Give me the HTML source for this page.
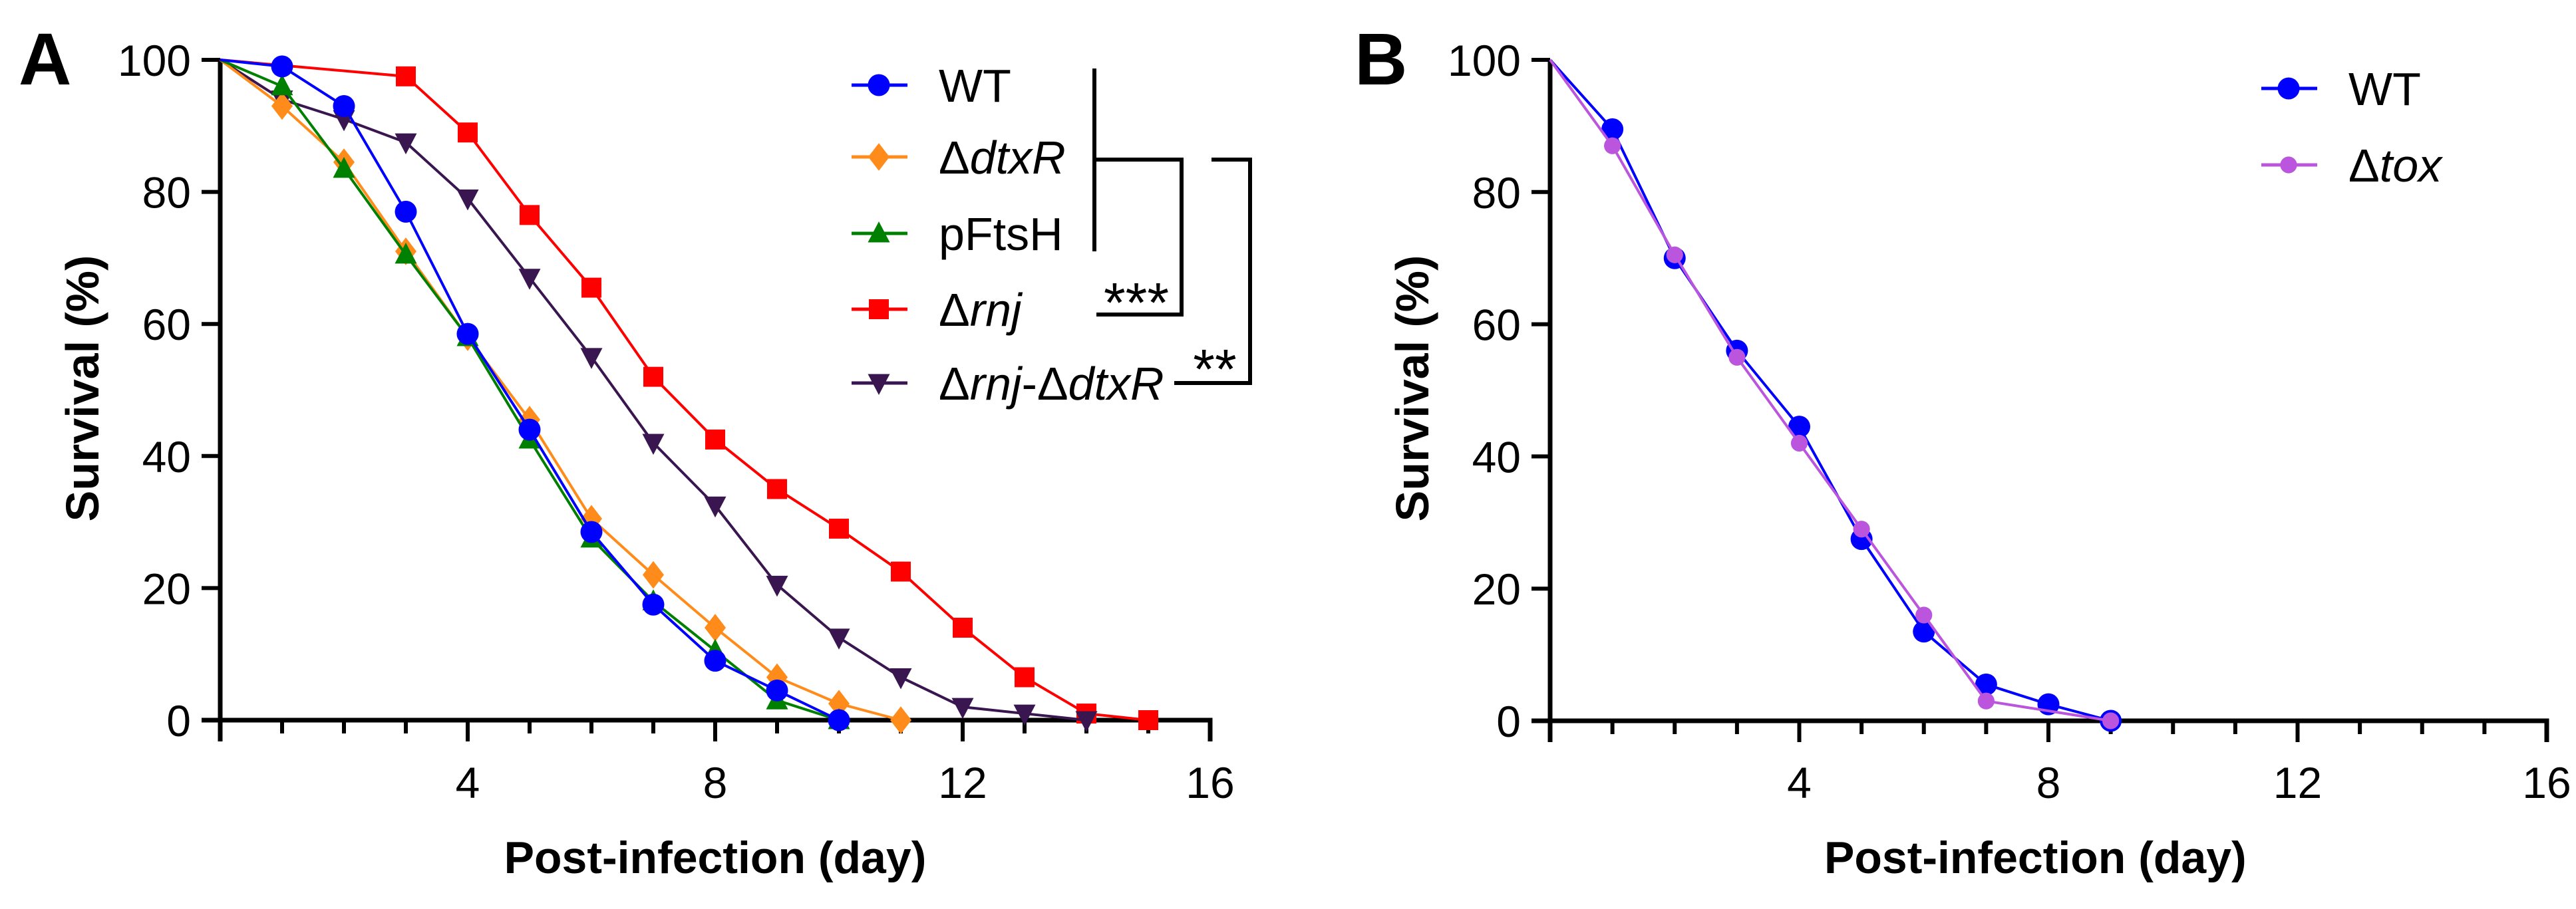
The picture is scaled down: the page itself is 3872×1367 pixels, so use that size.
<!DOCTYPE html>
<html><head><meta charset="utf-8"><style>
html,body{margin:0;padding:0;background:#fff;}
svg{display:block;font-family:"Liberation Sans",sans-serif;}
</style></head><body>
<svg id="fig" width="3872" height="1367" viewBox="0 0 3872 1367" xmlns="http://www.w3.org/2000/svg">
<text x="28" y="127" font-size="110" font-weight="bold">A</text>
<text x="2036" y="127" font-size="110" font-weight="bold">B</text>
<g id="panelA"></g>
<g id="panelB"></g>
<g stroke="#000" stroke-width="6" fill="none">
  <path d="M1645 103 V378"/>
  <path d="M1645 240 H1776 V473 H1648"/>
  <path d="M1821 240 H1879 V576 H1765"/>
</g>
<text x="1708" y="484" font-size="84" text-anchor="middle">***</text>
<text x="1826" y="584" font-size="84" text-anchor="middle">**</text>
</svg>
<script>
const NS="http://www.w3.org/2000/svg";
// Panel A data
const daysA=[0,1,2,3,4,5,6,7,8,9,10,11,12,13,14,15];
const wtA=[100,99,93,77,58.5,44,28.5,17.5,9,4.5,0];
const dtxrA=[100,93,84.5,71,58,45.5,30.5,22,14,6.5,2.5,0];
const pftshA=[100,96,83.5,70.5,58,42.5,27.5,18,10.5,3,0];
const rnjDays=[0,3,4,5,6,7,8,9,10,11,12,13,14,15];
const rnjA=[100,97.5,89,76.5,65.5,52,42.5,35,29,22.5,14,6.5,1,0];
const rnjDtxrA=[100,94,91,87.5,79,67,55,42,32.5,20.5,12.5,6.5,2,1,0];
// Panel B data
const daysB=[0,1,2,3,4,5,6,7,8,9];
const wtB=[100,89.5,70,56,44.5,27.5,13.5,5.5,2.5,0];
const toxDays=[0,1,2,3,4,5,6,7,9];
const toxB=[100,87,70.5,55,42,29,16,3,0];
const yTicks=[0,20,40,60,80,100];
const xTicks=[4,8,12,16];

const svg=document.getElementById('fig');
function el(tag,attrs,parent){const e=document.createElementNS(NS,tag);for(const k in attrs)e.setAttribute(k,attrs[k]);parent.appendChild(e);return e;}

function marker(g,shape,cx,cy,color,s){
  let m;
  if(shape==='circle') m=el('circle',{cx:cx,cy:cy,r:s*0.55,fill:color},g);
  else if(shape==='diamond') m=el('polygon',{points:`${cx},${cy-s*0.65} ${cx+s*0.5},${cy} ${cx},${cy+s*0.65} ${cx-s*0.5},${cy}`,fill:color},g);
  else if(shape==='tri') m=el('polygon',{points:`${cx},${cy-s*0.6} ${cx+s*0.55},${cy+s*0.45} ${cx-s*0.55},${cy+s*0.45}`,fill:color},g);
  else if(shape==='dtri') m=el('polygon',{points:`${cx},${cy+s*0.6} ${cx+s*0.55},${cy-s*0.45} ${cx-s*0.55},${cy-s*0.45}`,fill:color},g);
  else if(shape==='square') m=el('rect',{x:cx-s*0.5,y:cy-s*0.5,width:s,height:s,fill:color},g);
  else m=el('circle',{cx:cx,cy:cy,r:s*0.45,fill:color},g);
  
  
  return m;
}

function axes(g,x0,x16,y0,y100,titleX,titleAnchor){
  const sx=d=>x0+(x16-x0)*d/16, sy=v=>y0-(y0-y100)*v/100;
  const ax=el('path',{d:`M${x0} ${y100} V${y0+32} M${x0-28} ${y0} H${x16} V${y0+32}`,stroke:'#000','stroke-width':7,fill:'none'},g);
  
  
  for(let d=1;d<16;d++){
    const t=el('line',{x1:sx(d),x2:sx(d),y1:y0,y2:y0+(d%4===0?32:20),stroke:'#000','stroke-width':6},g);
    
    
  }
  yTicks.forEach(v=>{
    const t=el('line',{x1:x0-28,x2:x0,y1:sy(v),y2:sy(v),stroke:'#000','stroke-width':6},g);
    
    
    const l=el('text',{x:x0-44,y:sy(v)+24,'font-size':66,'text-anchor':'end'},g);
    l.textContent=v;
    
    
  });
  xTicks.forEach(v=>{
    const l=el('text',{x:sx(v),y:1200,'font-size':66,'text-anchor':'middle'},g);
    l.textContent=v;
    
    
  });
  const xt=el('text',{x:titleX,y:1313,'font-size':68,'font-weight':'bold','text-anchor':titleAnchor},g);
  xt.textContent='Post-infection (day)';
  
  
  return {sx,sy};
}

function series(g,sc,xs,ys,color,shape,size,name){
  const sg=el('g',{},g);
  
  
  const pts=ys.map((v,i)=>`${sc.sx(xs[i])},${sc.sy(v)}`).join(' ');
  el('polyline',{points:pts,fill:'none',stroke:color,'stroke-width':4},sg);
  ys.forEach((v,i)=>{ if(xs[i]>0) marker(sg,shape,sc.sx(xs[i]),sc.sy(v),color,size); });
}

function legend(g,x,y,color,shape,size,parts,name){
  const lg=el('g',{},g);
  
  
  el('line',{x1:x-41,x2:x+43,y1:y,y2:y,stroke:color,'stroke-width':5},lg);
  marker(lg,shape,x,y,color,size);
  const t=el('text',{x:x+90,y:y+25,'font-size':70},lg);
  parts.forEach(p=>{const s=el('tspan',{},t);if(p[1])s.setAttribute('font-style','italic');s.textContent=p[0];});
}

const gA=document.getElementById('panelA');
const scA=axes(gA,331,1819,1083,90,1075,'middle');
const ytA=el('text',{x:0,y:0,'font-size':70,'font-weight':'bold','text-anchor':'middle',transform:'translate(148,584) rotate(-90)'},gA);
ytA.textContent='Survival (%)';


series(gA,scA,rnjDays,rnjA,'#ff0000','square',30,'series-rnj');
series(gA,scA,daysA,rnjDtxrA,'#3a1650','dtri',30,'series-rnj-dtxr');
series(gA,scA,daysA,dtxrA,'#ff8c1a','diamond',32,'series-dtxr');
series(gA,scA,daysA,pftshA,'#008000','tri',30,'series-pftsh');
series(gA,scA,daysA,wtA,'#0000ff','circle',30,'series-wt');
legend(gA,1321,128,'#0000ff','circle',30,[['WT',false]],'legend-wt');
legend(gA,1321,236,'#ff8c1a','diamond',32,[['Δ',false],['dtxR',true]],'legend-dtxr');
legend(gA,1321,351,'#008000','tri',30,[['pFtsH',false]],'legend-pftsh');
legend(gA,1321,465,'#ff0000','square',30,[['Δ',false],['rnj',true]],'legend-rnj');
legend(gA,1321,576,'#3a1650','dtri',30,[['Δ',false],['rnj',true],['-Δ',false],['dtxR',true]],'legend-rnj-dtxr');

const gB=document.getElementById('panelB');
const scB=axes(gB,2330,3828,1084,90,2742,'start');
const ytB=el('text',{x:0,y:0,'font-size':70,'font-weight':'bold','text-anchor':'middle',transform:'translate(2147,584) rotate(-90)'},gB);
ytB.textContent='Survival (%)';


series(gB,scB,daysB,wtB,'#0000ff','circle',30,'series-wt-b');
series(gB,scB,toxDays,toxB,'#bb55dd','dot',28,'series-tox');
legend(gB,3440,133,'#0000ff','circle',30,[['WT',false]],'legend-wt-b');
legend(gB,3440,248,'#bb55dd','dot',28,[['Δ',false],['tox',true]],'legend-tox');
</script>
</body></html>
